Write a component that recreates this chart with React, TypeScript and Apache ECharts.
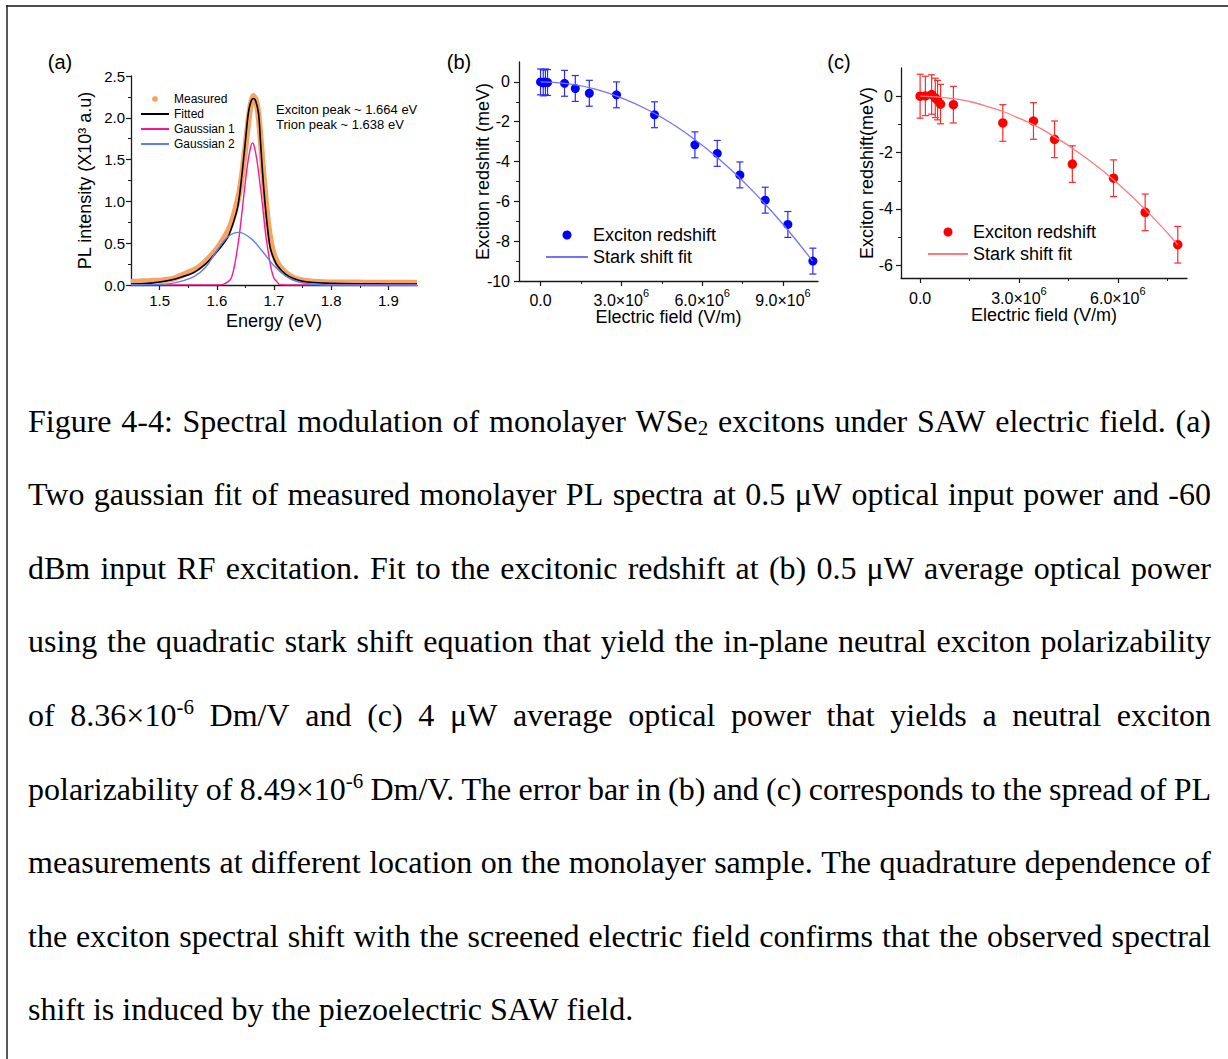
import React, { useEffect, useRef } from 'react';
import * as echarts from 'echarts';

const W = 1228;
const H = 1059;

// ---------- Panel (a): PL spectrum ----------
const measuredE = [1.45, 1.46, 1.47, 1.48, 1.49, 1.50, 1.51, 1.52, 1.53, 1.54, 1.55, 1.56, 1.57, 1.58, 1.59, 1.60, 1.61, 1.62, 1.625, 1.63, 1.635, 1.64, 1.645, 1.65, 1.655, 1.66, 1.664, 1.668, 1.672, 1.676, 1.68, 1.685, 1.69, 1.695, 1.70, 1.705, 1.71, 1.72, 1.73, 1.74, 1.75, 1.76, 1.78, 1.80, 1.83, 1.86, 1.89, 1.92, 1.95];
const measuredI = [0.04, 0.04, 0.045, 0.045, 0.05, 0.05, 0.06, 0.07, 0.09, 0.12, 0.15, 0.18, 0.22, 0.28, 0.35, 0.43, 0.53, 0.65, 0.73, 0.84, 0.97, 1.13, 1.36, 1.65, 1.95, 2.18, 2.26, 2.22, 2.08, 1.8, 1.45, 1.05, 0.72, 0.5, 0.36, 0.28, 0.22, 0.15, 0.1, 0.07, 0.055, 0.045, 0.035, 0.03, 0.03, 0.028, 0.028, 0.026, 0.025];

const fittedE = [1.45, 1.48, 1.50, 1.52, 1.54, 1.56, 1.58, 1.59, 1.60, 1.61, 1.62, 1.63, 1.637, 1.642, 1.649, 1.655, 1.66, 1.664, 1.668, 1.673, 1.677, 1.681, 1.686, 1.693, 1.70, 1.707, 1.72, 1.733, 1.75, 1.77, 1.80, 1.85, 1.90, 1.95];
const fittedI = [0.01, 0.02, 0.035, 0.06, 0.1, 0.15, 0.25, 0.32, 0.4, 0.48, 0.58, 0.77, 0.95, 1.2, 1.65, 2.05, 2.2, 2.23, 2.2, 2.05, 1.65, 1.25, 0.86, 0.46, 0.31, 0.22, 0.13, 0.08, 0.045, 0.03, 0.02, 0.015, 0.012, 0.01];

const gauss1E = [1.45, 1.60, 1.61, 1.62, 1.625, 1.63, 1.635, 1.64, 1.645, 1.65, 1.655, 1.66, 1.6625, 1.665, 1.67, 1.675, 1.68, 1.685, 1.69, 1.695, 1.70, 1.705, 1.71, 1.72, 1.95];
const gauss1I = [0, 0, 0.005, 0.04, 0.08, 0.2, 0.39, 0.63, 0.93, 1.24, 1.5, 1.67, 1.7, 1.67, 1.5, 1.24, 0.95, 0.63, 0.39, 0.2, 0.08, 0.04, 0.005, 0, 0];

const gauss2E = [1.45, 1.50, 1.52, 1.54, 1.56, 1.58, 1.60, 1.62, 1.638, 1.66, 1.68, 1.70, 1.72, 1.74, 1.76, 1.78, 1.80, 1.95];
const gauss2I = [0.003, 0.008, 0.02, 0.05, 0.1, 0.21, 0.41, 0.58, 0.63, 0.555, 0.4, 0.23, 0.11, 0.043, 0.015, 0.004, 0.001, 0];

const energyTicks = [1.5, 1.6, 1.7, 1.8, 1.9];
const energyMinor = [1.55, 1.65, 1.75, 1.85];
const intensityTicks = [0, 0.5, 1.0, 1.5, 2.0, 2.5];
const intensityMinor = [0.25, 0.75, 1.25, 1.75, 2.25];

// ---------- Panel (b): 0.5 uW ----------
const fieldB = [0, 0.1e6, 0.18e6, 0.26e6, 0.89e6, 1.29e6, 1.81e6, 2.82e6, 4.23e6, 5.73e6, 6.56e6, 7.40e6, 8.34e6, 9.18e6, 10.11e6];
const shiftB = [0, -0.05, 0.0, -0.03, -0.07, -0.33, -0.57, -0.65, -1.65, -3.16, -3.59, -4.67, -5.94, -7.16, -9.0];
const errB = [0.65, 0.65, 0.65, 0.65, 0.65, 0.65, 0.65, 0.65, 0.65, 0.65, 0.65, 0.65, 0.65, 0.65, 0.65];
const fitBx = [0, 1e6, 2e6, 3e6, 4e6, 5e6, 6e6, 7e6, 8e6, 9e6, 10.1e6];
const fitBy = [0, -0.09, -0.35, -0.8, -1.41, -2.2, -3.18, -4.32, -5.65, -7.15, -9.0];
const fieldTicksB = [0, 3e6, 6e6, 9e6];
const fieldMinorB = [1.5e6, 4.5e6, 7.5e6];
const shiftTicksB = [-10, -8, -6, -4, -2, 0];
const shiftMinorB = [-9, -7, -5, -3, -1];

// ---------- Panel (c): 4 uW ----------
const fieldC = [0, 0.16e6, 0.35e6, 0.46e6, 0.53e6, 0.62e6, 1.01e6, 2.51e6, 3.44e6, 4.08e6, 4.62e6, 5.87e6, 6.83e6, 7.82e6];
const shiftC = [0, 0.01, 0.06, -0.06, -0.14, -0.28, -0.30, -0.95, -0.88, -1.53, -2.41, -2.91, -4.12, -5.27];
const errC = [0.78, 0.7, 0.7, 0.7, 0.7, 0.7, 0.65, 0.65, 0.65, 0.65, 0.65, 0.65, 0.65, 0.65];
const fitCx = [0, 1e6, 2e6, 3e6, 4e6, 5e6, 6e6, 7e6, 7.82e6];
const fitCy = [0, -0.09, -0.35, -0.78, -1.38, -2.16, -3.1, -4.22, -5.27];
const fieldTicksC = [0, 3e6, 6e6];
const fieldMinorC = [1.5e6, 4.5e6, 7.5e6];
const shiftTicksC = [-6, -4, -2, 0];
const shiftMinorC = [-5, -3, -1];

// ---------- Caption ----------
const captionLines = [
  'Figure 4-4: Spectral modulation of monolayer WSe_2 excitons under SAW electric field. (a)',
  'Two gaussian fit of measured monolayer PL spectra at 0.5 μW optical input power and -60',
  'dBm input RF excitation. Fit to the excitonic redshift at (b) 0.5 μW average optical power',
  'using the quadratic stark shift equation that yield the in-plane neutral exciton polarizability',
  'of 8.36×10^-6 Dm/V and (c) 4 μW average optical power that yields a neutral exciton',
  'polarizability of 8.49×10^-6 Dm/V. The error bar in (b) and (c) corresponds to the spread of PL',
  'measurements at different location on the monolayer sample. The quadrature dependence of',
  'the exciton spectral shift with the screened electric field confirms that the observed spectral',
  'shift is induced by the piezoelectric SAW field.',
];
const captionY = [421, 494, 568, 641, 715, 789, 862, 936, 1009];
const CAP_LEFT = 28;
const CAP_RIGHT = 1211;
const CAP_FS = 32;
const CAP_SMALL = 21;
const SERIF = 'Liberation Serif, Times New Roman, serif';
const SANS = 'Liberation Sans, Arial, sans-serif';

const pairs = (xs: number[], ys: number[]) => xs.map((x, i) => [x, ys[i]]);

type Seg = { t: string; k: 'n' | 'sub' | 'sup' };
function parseWord(w: string): Seg[] {
  if (w.includes('_')) {
    const [a, b] = w.split('_');
    return [{ t: a, k: 'n' }, { t: b, k: 'sub' }];
  }
  if (w.includes('^')) {
    const [a, b] = w.split('^');
    return [{ t: a, k: 'n' }, { t: b, k: 'sup' }];
  }
  return [{ t: w, k: 'n' }];
}

function buildCaption(): any[] {
  const canvas = document.createElement('canvas');
  const ctx = canvas.getContext('2d')!;
  const measure = (s: Seg) => {
    ctx.font = `${s.k === 'n' ? CAP_FS : CAP_SMALL}px "Liberation Serif"`;
    return ctx.measureText(s.t).width;
  };
  ctx.font = `${CAP_FS}px "Liberation Serif"`;
  const spaceW = ctx.measureText(' ').width;
  const out: any[] = [];
  captionLines.forEach((line, li) => {
    const words = line.split(' ').map(parseWord);
    const widths = words.map((w) => w.reduce((a, s) => a + measure(s), 0));
    const total = widths.reduce((a, b) => a + b, 0);
    const justify = li < captionLines.length - 1;
    const gap = justify ? (CAP_RIGHT - CAP_LEFT - total) / (words.length - 1) : spaceW;
    let x = CAP_LEFT;
    const yc = captionY[li];
    words.forEach((w, wi) => {
      let sx = x;
      w.forEach((s) => {
        const dy = s.k === 'sub' ? 7 : s.k === 'sup' ? -8 : 0;
        out.push({
          type: 'text',
          x: sx,
          y: yc + dy,
          silent: true,
          style: {
            text: s.t,
            fontSize: s.k === 'n' ? CAP_FS : CAP_SMALL,
            fontFamily: SERIF,
            fill: '#000',
            align: 'left',
            verticalAlign: 'middle',
          },
        });
        sx += measure(s);
      });
      x += widths[wi] + gap;
    });
  });
  return out;
}

const AXC = '#1a1a1a';

function majorAxis(o: any) {
  return {
    type: 'value',
    gridIndex: o.grid,
    position: o.pos,
    min: o.min,
    max: o.max,
    splitLine: { show: false },
    axisLine: { show: true, onZero: false, lineStyle: { color: AXC, width: 1.3 } },
    axisTick: { show: true, inside: false, length: 5, customValues: o.ticks, lineStyle: { color: AXC, width: 1.2 } },
    axisLabel: {
      show: true,
      customValues: o.ticks,
      formatter: o.fmt,
      margin: o.margin,
      color: '#000',
      fontSize: o.fs,
      fontFamily: SANS,
      rich: o.rich,
    },
    name: o.name,
    nameLocation: 'middle',
    nameGap: o.nameGap,
    nameMoveOverlap: false,
    nameTextStyle: { color: '#000', fontSize: o.nfs, fontFamily: SANS },
  };
}
function minorAxis(o: any) {
  return {
    type: 'value',
    gridIndex: o.grid,
    position: o.pos,
    min: o.min,
    max: o.max,
    splitLine: { show: false },
    axisLine: { show: false, onZero: false },
    axisTick: { show: true, inside: false, length: 3, customValues: o.ticks, lineStyle: { color: AXC, width: 1 } },
    axisLabel: { show: false },
  };
}

const fieldFmt = (v: number) => (Math.abs(v) < 1 ? '{m|0.0}' : '{m|' + (v / 1e6).toFixed(1) + '×10}{s|6}');
const fieldRich = {
  m: { fontSize: 16, fontFamily: SANS, color: '#000', verticalAlign: 'bottom', lineHeight: 21 },
  s: { fontSize: 11, fontFamily: SANS, color: '#000', verticalAlign: 'top', lineHeight: 12 },
};

const errRender = (color: string) => (params: any, api: any) => {
  const x = api.value(0);
  const y = api.value(1);
  const e = api.value(2);
  const p1 = api.coord([x, y + e]);
  const p2 = api.coord([x, y - e]);
  const cap = 3.5;
  const style = { stroke: color, lineWidth: 1.2, fill: 'none' };
  return {
    type: 'group',
    children: [
      { type: 'line', shape: { x1: p1[0], y1: p1[1], x2: p2[0], y2: p2[1] }, style },
      { type: 'line', shape: { x1: p1[0] - cap, y1: p1[1], x2: p1[0] + cap, y2: p1[1] }, style },
      { type: 'line', shape: { x1: p2[0] - cap, y1: p2[1], x2: p2[0] + cap, y2: p2[1] }, style },
    ],
  };
};

const ORANGE = '#f5a462';
const PINK = '#ff1493';
const BLUE2 = '#5b7cff';
const HIDE_SYMBOL = { opacity: 0 };

function buildOption(): any {
  const grids = [
    { left: 131, top: 76, width: 286, height: 209 },
    { left: 519, top: 62, width: 299, height: 219 },
    { left: 901, top: 68, width: 286, height: 210 },
  ].map((g) => ({ ...g, containLabel: false, outerBoundsMode: 'none' }));

  const xAxis = [
    majorAxis({ grid: 0, pos: 'bottom', min: 1.45, max: 1.95, ticks: energyTicks, fmt: (v: number) => v.toFixed(1), margin: 8, fs: 15, name: 'Energy (eV)', nameGap: 27, nfs: 18 }),
    minorAxis({ grid: 0, pos: 'bottom', min: 1.45, max: 1.95, ticks: energyMinor }),
    majorAxis({ grid: 1, pos: 'bottom', min: -0.8e6, max: 10.3e6, ticks: fieldTicksB, fmt: fieldFmt, rich: fieldRich, margin: 6, fs: 16, name: 'Electric field (V/m)', nameGap: 27, nfs: 18 }),
    minorAxis({ grid: 1, pos: 'bottom', min: -0.8e6, max: 10.3e6, ticks: fieldMinorB }),
    majorAxis({ grid: 2, pos: 'bottom', min: -0.58e6, max: 8.1e6, ticks: fieldTicksC, fmt: fieldFmt, rich: fieldRich, margin: 7, fs: 16, name: 'Electric field (V/m)', nameGap: 28, nfs: 18 }),
    minorAxis({ grid: 2, pos: 'bottom', min: -0.58e6, max: 8.1e6, ticks: fieldMinorC }),
  ];
  const yAxis = [
    majorAxis({ grid: 0, pos: 'left', min: 0, max: 2.5, ticks: intensityTicks, fmt: (v: number) => v.toFixed(1), margin: 6, fs: 15, name: 'PL intensity (X10³ a.u)', nameGap: 37, nfs: 18 }),
    minorAxis({ grid: 0, pos: 'left', min: 0, max: 2.5, ticks: intensityMinor }),
    majorAxis({ grid: 1, pos: 'left', min: -10, max: 1, ticks: shiftTicksB, fmt: (v: number) => String(v), margin: 9, fs: 16, name: 'Exciton redshift (meV)', nameGap: 27, nfs: 18 }),
    minorAxis({ grid: 1, pos: 'left', min: -10, max: 1, ticks: shiftMinorB }),
    majorAxis({ grid: 2, pos: 'left', min: -6.45, max: 1, ticks: shiftTicksC, fmt: (v: number) => String(v), margin: 8, fs: 16, name: 'Exciton redshift(meV)', nameGap: 25, nfs: 18 }),
    minorAxis({ grid: 2, pos: 'left', min: -6.45, max: 1, ticks: shiftMinorC }),
  ];

  const series: any[] = [
    { name: 'Measured', type: 'line', xAxisIndex: 0, yAxisIndex: 0, data: pairs(measuredE, measuredI), symbol: 'none', smooth: 0.2, lineStyle: { color: ORANGE, width: 6 }, itemStyle: { color: ORANGE } },
    { name: 'Fitted', type: 'line', xAxisIndex: 0, yAxisIndex: 0, data: pairs(fittedE, fittedI), symbol: 'none', smooth: 0.3, lineStyle: { color: '#000', width: 1.6 }, itemStyle: { color: '#000' } },
    { name: 'Gaussian 1', type: 'line', xAxisIndex: 0, yAxisIndex: 0, data: pairs(gauss1E, gauss1I), symbol: 'none', smooth: 0.3, lineStyle: { color: PINK, width: 1.4 }, itemStyle: { color: PINK } },
    { name: 'Gaussian 2', type: 'line', xAxisIndex: 0, yAxisIndex: 0, data: pairs(gauss2E, gauss2I), symbol: 'none', smooth: 0.4, lineStyle: { color: BLUE2, width: 1.4 }, itemStyle: { color: BLUE2 } },

    { name: 'err b', type: 'custom', xAxisIndex: 2, yAxisIndex: 2, data: fieldB.map((x, i) => [x, shiftB[i], errB[i]]), encode: { x: 0, y: 1 }, renderItem: errRender('#2a2aff') },
    { name: 'Stark shift fit', type: 'line', xAxisIndex: 2, yAxisIndex: 2, data: pairs(fitBx, fitBy), symbol: 'none', smooth: true, lineStyle: { color: '#7373ff', width: 1.3 }, itemStyle: { color: '#7373ff' } },
    { name: 'Exciton redshift', type: 'scatter', xAxisIndex: 2, yAxisIndex: 2, data: pairs(fieldB, shiftB), symbolSize: 9, itemStyle: { color: '#0000ff', opacity: 1 } },

    { name: 'err c', type: 'custom', xAxisIndex: 4, yAxisIndex: 4, data: fieldC.map((x, i) => [x, shiftC[i], errC[i]]), encode: { x: 0, y: 1 }, renderItem: errRender('#ff2a2a') },
    { name: 'Stark shift fit (c)', type: 'line', xAxisIndex: 4, yAxisIndex: 4, data: pairs(fitCx, fitCy), symbol: 'none', smooth: true, lineStyle: { color: '#ff7a7a', width: 1.3 }, itemStyle: { color: '#ff7a7a' } },
    { name: 'Exciton redshift (c)', type: 'scatter', xAxisIndex: 4, yAxisIndex: 4, data: pairs(fieldC, shiftC), symbolSize: 9.5, itemStyle: { color: '#ff0000', opacity: 1 } },
  ];

  const legend = [
    {
      data: [
        { name: 'Measured', icon: 'circle' },
        { name: 'Fitted', itemStyle: HIDE_SYMBOL },
        { name: 'Gaussian 1', itemStyle: HIDE_SYMBOL },
        { name: 'Gaussian 2', itemStyle: HIDE_SYMBOL },
      ],
      orient: 'vertical', left: 135, top: 88, itemWidth: 28, itemHeight: 6, itemGap: 3,
      selectedMode: false,
      textStyle: { fontSize: 12, fontFamily: SANS, color: '#000' },
    },
    {
      data: ['Exciton redshift', { name: 'Stark shift fit', itemStyle: HIDE_SYMBOL }],
      orient: 'vertical', left: 540, top: 221, itemWidth: 42, itemHeight: 9, itemGap: 4,
      selectedMode: false,
      textStyle: { fontSize: 18, fontFamily: SANS, color: '#000' },
    },
    {
      data: ['Exciton redshift (c)', { name: 'Stark shift fit (c)', itemStyle: HIDE_SYMBOL }],
      formatter: (n: string) => n.replace(' (c)', ''),
      orient: 'vertical', left: 922, top: 218, itemWidth: 40, itemHeight: 9, itemGap: 4,
      selectedMode: false,
      textStyle: { fontSize: 18, fontFamily: SANS, color: '#000' },
    },
  ];

  const label = (t: string, x: number, y: number, fs: number, align = 'center') => ({
    type: 'text', x, y, silent: true,
    style: { text: t, fontSize: fs, fontFamily: SANS, fill: '#000', align, verticalAlign: 'middle' },
  });

  const graphicEls: any[] = [
    { type: 'line', silent: true, shape: { x1: 6, y1: 6, x2: W, y2: 6 }, style: { stroke: '#4d4d4d', lineWidth: 2 } },
    { type: 'line', silent: true, shape: { x1: 7, y1: 5, x2: 7, y2: H }, style: { stroke: '#222', lineWidth: 1.5 } },
    label('(a)', 60, 62, 20),
    label('(b)', 459, 62, 20),
    label('(c)', 839, 62, 20),
    label('Exciton peak ~ 1.664 eV', 276, 109, 13, 'left'),
    label('Trion peak ~ 1.638 eV', 276, 124, 13, 'left'),
    ...buildCaption(),
  ];

  return {
    animation: false,
    backgroundColor: '#fff',
    grid: grids,
    xAxis,
    yAxis,
    legend,
    series,
    graphic: { elements: graphicEls },
  };
}

export default function App() {
  const ref = useRef<HTMLDivElement>(null);
  useEffect(() => {
    if (!ref.current) return;
    const chart = echarts.init(ref.current, null, { renderer: 'svg', width: W, height: H });
    chart.setOption(buildOption());
    return () => chart.dispose();
  }, []);
  return <div ref={ref} style={{ position: 'absolute', left: 0, top: 0, width: W, height: H, background: '#fff' }} />;
}
